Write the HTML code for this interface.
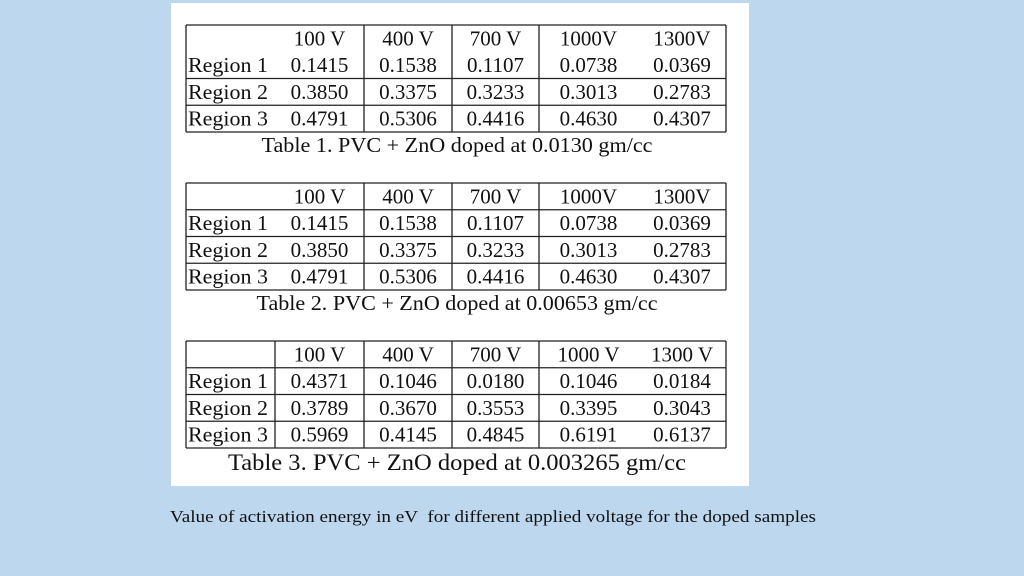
<!DOCTYPE html>
<html><head><meta charset="utf-8"><style>
html,body{margin:0;padding:0;width:1024px;height:576px;overflow:hidden;background:#bdd7ee;}
svg{position:absolute;left:0;top:0;}
text{font-family:"Liberation Serif",serif;fill:#111;}
</style></head><body>
<svg id="s" width="1024" height="576">
<rect x="171" y="3" width="578" height="483" fill="#fff"/>
<text x="170" y="522" font-size="17" textLength="646" lengthAdjust="spacingAndGlyphs" xml:space="preserve">Value of activation energy in eV  for different applied voltage for the doped samples</text>
</svg>
<script>
const headers1 = ["100 V","400 V","700 V","1000V","1300V"];
const headers3 = ["100 V","400 V","700 V","1000 V","1300 V"];
const rowLabels = ["Region 1","Region 2","Region 3"];
const t1 = [["0.1415","0.1538","0.1107","0.0738","0.0369"],["0.3850","0.3375","0.3233","0.3013","0.2783"],["0.4791","0.5306","0.4416","0.4630","0.4307"]];
const t2 = [["0.1415","0.1538","0.1107","0.0738","0.0369"],["0.3850","0.3375","0.3233","0.3013","0.2783"],["0.4791","0.5306","0.4416","0.4630","0.4307"]];
const t3 = [["0.4371","0.1046","0.0180","0.1046","0.0184"],["0.3789","0.3670","0.3553","0.3395","0.3043"],["0.5969","0.4145","0.4845","0.6191","0.6137"]];
const captions = ["Table 1. PVC + ZnO doped at 0.0130 gm/cc","Table 2. PVC + ZnO doped at 0.00653 gm/cc","Table 3. PVC + ZnO doped at 0.003265 gm/cc"];
const svg = document.getElementById('s');
const NS = "http://www.w3.org/2000/svg";
const colX = [186,275,364,452,539,638,726];
function line(x1,y1,x2,y2){
  const l=document.createElementNS(NS,'line');
  l.setAttribute('x1',x1);l.setAttribute('y1',y1);l.setAttribute('x2',x2);l.setAttribute('y2',y2);
  l.setAttribute('stroke','#222');l.setAttribute('stroke-width','1.3');
  
  
  svg.appendChild(l);
}
function txt(x,y,s,anchor,size,name,len){
  const t=document.createElementNS(NS,'text');
  t.setAttribute('x',x);t.setAttribute('y',y);t.setAttribute('font-size',size);
  t.setAttribute('text-anchor',anchor);t.textContent=s;
  if(len){t.setAttribute('textLength',len);t.setAttribute('lengthAdjust','spacingAndGlyphs');}
  
  
  svg.appendChild(t);
}
function table(top,headers,data,headerLine,firstCol,cap,capSize,capY,capLen,idx){
  const h=26.75, bottom=top+4*h;
  line(186,top,726,top);line(186,bottom,726,bottom);
  line(186,top,186,bottom);line(726,top,726,bottom);
  if(headerLine) line(186,top+h,726,top+h);
  line(186,top+2*h,726,top+2*h);line(186,top+3*h,726,top+3*h);
  if(firstCol) line(275,top,275,bottom);
  [364,452,539].forEach(x=>line(x,top,x,bottom));
  headers.forEach((hd,i)=>txt((colX[i+1]+colX[i+2])/2,top+h*0.5+7,hd,'middle',21,'column-header'));
  data.forEach((row,r)=>{
    txt(188,top+h*(r+1.5)+7,rowLabels[r],'start',21,'row-label',80);
    row.forEach((v,c)=>txt((colX[c+1]+colX[c+2])/2,top+h*(r+1.5)+7,v,'middle',21,'cell-value'));
  });
  txt(457,capY,cap,'middle',capSize,'table-caption-'+idx,capLen);
}
table(25,headers1,t1,false,false,captions[0],21,152,391,1);
table(183,headers1,t2,true,false,captions[1],21,310,401,2);
table(341,headers3,t3,true,true,captions[2],23,470,458,3);
</script>
</body></html>
